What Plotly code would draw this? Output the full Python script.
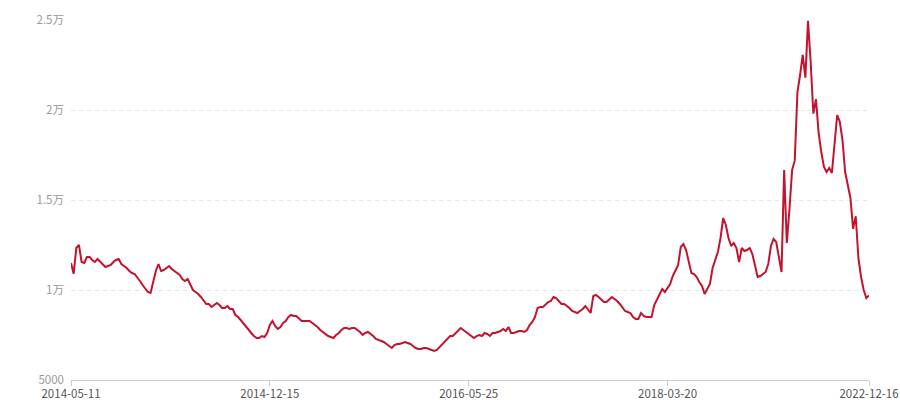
import plotly.graph_objects as go

tick_labels = ["2014-05-11", "2014-12-15", "2016-05-25", "2018-03-20", "2022-12-16"]
tick_index = [0, 75, 150, 225, 301]

y_tick_vals = [5000, 10000, 15000, 20000, 25000]
y_tick_text = ["5000", "1万", "1.5万", "2万", "2.5万"]

values = [
    11500, 10900, 12333, 12500, 11556, 11500, 11833, 11833, 11667, 11556,
    11722, 11556, 11444, 11278, 11333, 11389, 11556, 11667, 11722, 11444,
    11333, 11222, 11056, 10944, 10889, 10722, 10500, 10278, 10056, 9889,
    9833, 10500, 11056, 11444, 11056, 11111, 11222, 11333, 11167, 11056,
    10944, 10833, 10611, 10500, 10611, 10278, 10000, 9889, 9778, 9611,
    9444, 9222, 9222, 9056, 9167, 9278, 9167, 9000, 9000, 9111,
    8944, 8944, 8611, 8500, 8333, 8167, 7944, 7778, 7611, 7444,
    7333, 7333, 7444, 7389, 7611, 8056, 8278, 8000, 7833, 7944,
    8167, 8278, 8500, 8611, 8556, 8556, 8389, 8278, 8278, 8278,
    8278, 8167, 8056, 7944, 7778, 7667, 7556, 7444, 7389, 7333,
    7500, 7611, 7778, 7889, 7889, 7833, 7889, 7889, 7778, 7667,
    7500, 7611, 7667, 7556, 7444, 7278, 7222, 7167, 7111, 7000,
    6889, 6778, 6944, 7000, 7000, 7056, 7111, 7056, 7000, 6889,
    6778, 6722, 6722, 6778, 6778, 6722, 6667, 6611, 6667, 6833,
    7000, 7167, 7278, 7444, 7444, 7611, 7778, 7889, 7778, 7667,
    7556, 7444, 7333, 7444, 7500, 7444, 7611, 7556, 7444, 7611,
    7611, 7667, 7722, 7833, 7722, 7944, 7611, 7611, 7667, 7722,
    7722, 7667, 7778, 8056, 8222, 8500, 9000, 9056, 9056, 9222,
    9333, 9389, 9611, 9556, 9389, 9222, 9222, 9111, 9000, 8833,
    8778, 8722, 8833, 8944, 9111, 8944, 8722, 9667, 9722, 9611,
    9444, 9333, 9333, 9500, 9611, 9500, 9389, 9222, 9000, 8833,
    8778, 8722, 8500, 8389, 8389, 8722, 8556, 8500, 8500, 8500,
    9167, 9444, 9778, 10056, 9889, 10111, 10333, 10778, 11056, 11389,
    12389, 12556, 12222, 11556, 10944, 10889, 10722, 10444, 10222, 9778,
    10056, 10333, 11222, 11722, 12111, 12889, 14000, 13611, 12889, 12444,
    12611, 12333, 11556, 12333, 12167, 12222, 12333, 12000, 11333, 10722,
    10778, 10889, 11000, 11444, 12444, 12833, 12667, 11833, 11000, 16667,
    12611, 14500, 16667, 17200, 21000, 21944, 23056, 21800, 24950, 22667,
    19800, 20600, 18722, 17667, 16833, 16556, 16778, 16500, 18056, 19722,
    19333, 18333, 16556, 15833, 15111, 13400, 14100, 11778, 10722, 10000,
    9550, 9700,
]

index = list(range(len(values)))

fig = go.Figure()
fig.add_trace(go.Scatter(
    x=index, y=values, mode="lines",
    line=dict(color="#c4132d", width=2),
    hoverinfo="skip",
))

fig.update_layout(
    template="none",
    width=900, height=400,
    margin=dict(l=71, r=31, t=20, b=20, autoexpand=False),
    paper_bgcolor="white", plot_bgcolor="white",
    showlegend=False,
    font=dict(family="Noto Sans CJK SC, Noto Sans, sans-serif", size=12, color="#999999"),
)
fig.update_xaxes(
    automargin=False,
    range=[0, len(values) - 1],
    tickmode="array", tickvals=tick_index, ticktext=tick_labels,
    showgrid=False, zeroline=False,
    showline=True, linecolor="#cccccc", linewidth=1,
    ticks="outside", ticklen=5, tickcolor="#cccccc", tickwidth=1,
    tickfont=dict(color="#555555", size=11.5),
    ticklabeloverflow="allow",
    ticklabelstandoff=-2,
)
fig.update_yaxes(
    automargin=False,
    range=[5000, 25000],
    tickmode="array", tickvals=y_tick_vals, ticktext=y_tick_text,
    showgrid=True, gridcolor="#e6e6e6", griddash="4px,4px", gridwidth=1,
    zeroline=False, showline=False,
    ticks="", ticklabelstandoff=6,
    tickfont=dict(color="#999999", size=11.5),
)

fig.write_html(
    "out.html",
    config={"displayModeBar": False, "staticPlot": True},
    post_script="document.body.style.margin='0';document.body.style.overflow='hidden';",
)
